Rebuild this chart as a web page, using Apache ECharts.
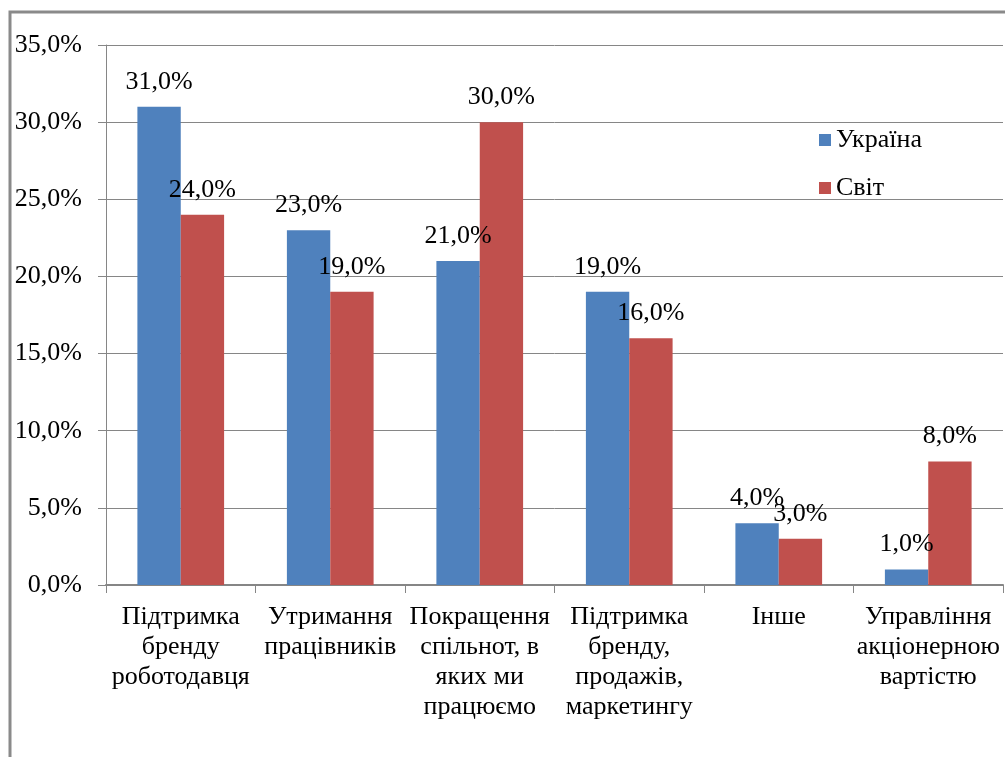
<!DOCTYPE html>
<html lang="uk">
<head>
  <meta charset="UTF-8">
  <title>Chart</title>
  <script src="https://cdn.jsdelivr.net/npm/echarts@6/dist/echarts.min.js"></script>
  <style>
    html, body { margin: 0; padding: 0; background: #fff; }
    #chart { width: 1005px; height: 757px; }
  </style>
</head>
<body>
  <div id="chart"></div>
  <script>
    // дані з малюнка
    var categories = [
      'Підтримка\nбренду\nроботодавця',
      'Утримання\nпрацівників',
      'Покращення\nспільнот, в\nяких ми\nпрацюємо',
      'Підтримка\nбренду,\nпродажів,\nмаркетингу',
      'Інше',
      'Управління\nакціонерною\nвартістю'
    ]
    var ukraine = [31, 23, 21, 19, 4, 1]
    var world = [24, 19, 30, 16, 3, 8]
    var seriesNames = ['Україна', 'Світ']

    var font = 'Liberation Serif, Times New Roman, serif'
    function pct(v) { return v.toFixed(1).replace('.', ',') + '%' }

    var chart = echarts.init(document.getElementById('chart'))
    var labelCfg = {
      show: true,
      position: 'top',
      distance: 12,
      color: '#000',
      fontFamily: font,
      fontSize: 26,
      formatter: function (p) { return pct(p.value) }
    }
    var option = {
      animation: false,
      graphic: [{
        type: 'rect',
        shape: { x: 10, y: 12, width: 1100, height: 900 },
        style: { fill: 'none', stroke: '#8a8a8a', lineWidth: 3 },
        z: 100
      }],
      legend: {
        orient: 'vertical',
        left: 814,
        top: 122,
        itemWidth: 12,
        itemHeight: 12,
        itemGap: 22,
        icon: 'rect',
        textStyle: { fontFamily: font, fontSize: 26, color: '#000' },
        data: seriesNames
      },
      grid: { left: 106, top: 45, right: 2, bottom: 172 },
      xAxis: {
        type: 'category',
        data: categories,
        axisLine: { lineStyle: { color: '#868686', width: 2 } },
        axisTick: { show: true, length: 8, lineStyle: { color: '#868686' } },
        axisLabel: {
          interval: 0,
          margin: 17,
          color: '#000',
          fontFamily: font,
          fontSize: 26,
          lineHeight: 30
        }
      },
      yAxis: {
        type: 'value',
        min: 0,
        max: 35,
        interval: 5,
        axisLine: { show: true, lineStyle: { color: '#868686', width: 1 } },
        axisTick: { show: true, length: 8, lineStyle: { color: '#868686' } },
        splitLine: { lineStyle: { color: '#868686', width: 1 } },
        axisLabel: {
          margin: 24,
          color: '#000',
          fontFamily: font,
          fontSize: 26,
          formatter: function (v) { return pct(v) }
        }
      },
      series: [
        {
          name: seriesNames[0],
          type: 'bar',
          data: ukraine,
          barGap: '0%',
          barCategoryGap: '42%',
          itemStyle: { color: '#4F81BD' },
          label: labelCfg
        },
        {
          name: seriesNames[1],
          type: 'bar',
          data: world,
          itemStyle: { color: '#C0504D' },
          label: labelCfg
        }
      ]
    }
    chart.setOption(option)
  </script>
</body>
</html>
